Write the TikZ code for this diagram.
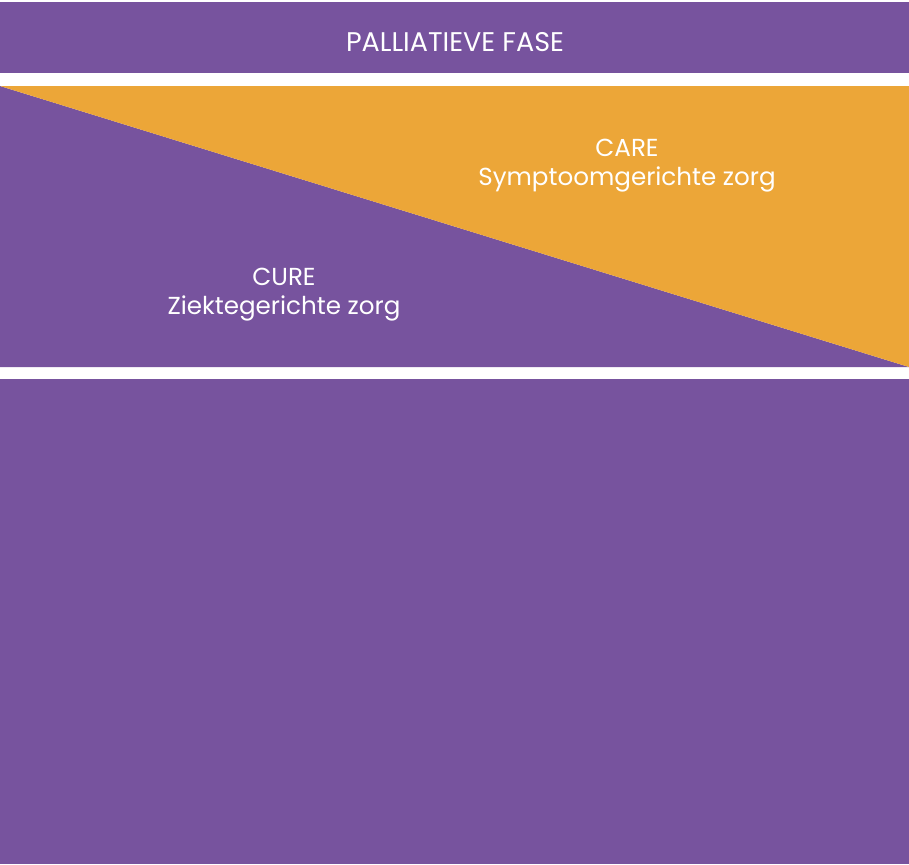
\documentclass[tikz,border=0pt]{standalone}
\usepackage{fontspec}
\setmainfont{Poppins}
\definecolor{fasepurple}{RGB}{119,83,158}
\definecolor{careorange}{RGB}{236,166,56}
\begin{document}
\begin{tikzpicture}[x=0.5pt,y=-0.5pt,
    band/.style ={fill=fasepurple},
    txt/.style ={text=white, align=center, inner sep=0pt,
      font=\fontsize{12.3}{14.5}\selectfont}]
   \useasboundingbox (0,0) rectangle (909,864);
   \fill[band] (0,2) rectangle (909,73);
   \fill[band] (0,86) -- (909,367) -- (0,367) -- cycle;
   \fill[careorange] (0,86) -- (909,86) -- (909,367) -- cycle;
   \fill[band] (0,379) rectangle (909,864);
   \node[txt, font=\fontsize{13.5}{14.5}\selectfont] (fase) at (455,42)  {PALLIATIEVE FASE};
   \node[txt] (care) at (627,166) {CARE\\Symptoomgerichte zorg};
   \node[txt] (cure) at (284,295) {CURE\\Ziektegerichte zorg};
 \end{tikzpicture}
\end{document}
